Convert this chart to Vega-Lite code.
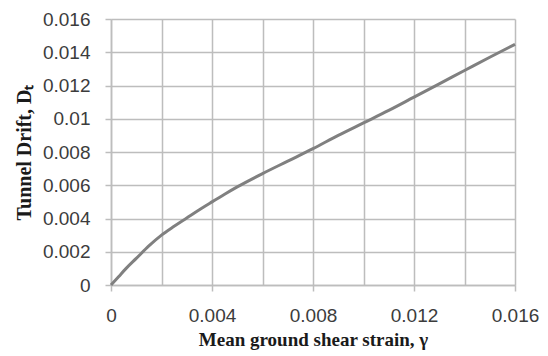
{
  "$schema": "https://vega.github.io/schema/vega-lite/v6.json",
  "width": 404,
  "height": 266,
  "autosize": "none",
  "padding": {"left": 111, "top": 19, "right": 33, "bottom": 71},
  "background": "white",
  "config": {
    "view": {"stroke": null},
    "axis": {
      "labelFont": "Liberation Sans",
      "labelFontSize": 19,
      "labelColor": "#3c3c3c",
      "titleFont": "Liberation Serif",
      "titleFontWeight": "bold",
      "titleFontSize": 19,
      "titleColor": "#1a1a1a",
      "gridColor": "#bdbdbd",
      "gridWidth": 1.5,
      "gridOpacity": 1,
      "domainColor": "#bdbdbd",
      "domainWidth": 1.5,
      "tickColor": "#bdbdbd",
      "tickWidth": 1.5,
      "tickSize": 6
    }
  },
  "data": {
    "values": [
      {"strain": 0, "drift": 0},
      {"strain": 0.0003, "drift": 0.0005},
      {"strain": 0.0006, "drift": 0.001},
      {"strain": 0.001, "drift": 0.0016},
      {"strain": 0.0015, "drift": 0.00235},
      {"strain": 0.002, "drift": 0.003},
      {"strain": 0.0025, "drift": 0.00353},
      {"strain": 0.003, "drift": 0.00403},
      {"strain": 0.0035, "drift": 0.00453},
      {"strain": 0.004, "drift": 0.005},
      {"strain": 0.0045, "drift": 0.00546},
      {"strain": 0.005, "drift": 0.0059},
      {"strain": 0.006, "drift": 0.0067},
      {"strain": 0.007, "drift": 0.00745},
      {"strain": 0.008, "drift": 0.0082},
      {"strain": 0.009, "drift": 0.009},
      {"strain": 0.01, "drift": 0.00975},
      {"strain": 0.011, "drift": 0.0105},
      {"strain": 0.012, "drift": 0.0113},
      {"strain": 0.013, "drift": 0.0121},
      {"strain": 0.014, "drift": 0.0129},
      {"strain": 0.015, "drift": 0.0137},
      {"strain": 0.016, "drift": 0.01448}
    ]
  },
  "mark": {"type": "line", "color": "#808080", "strokeWidth": 3, "interpolate": "monotone"},
  "encoding": {
    "x": {
      "field": "strain",
      "type": "quantitative",
      "scale": {"domain": [0, 0.016], "nice": false, "zero": true},
      "axis": {
        "title": "Mean ground shear strain, γ",
        "values": [0, 0.002, 0.004, 0.006, 0.008, 0.01, 0.012, 0.014, 0.016],
        "format": "~g",
        "labelExpr": "round(datum.value*1000) % 4 === 0 ? datum.label : ''",
        "tickOpacity": {"condition": {"test": "round(datum.value*1000) % 4 === 0", "value": 1}, "value": 0},
        "labelPadding": 15,
        "titlePadding": 5,
        "labelFlush": false,
        "labelOverlap": false
      }
    },
    "y": {
      "field": "drift",
      "type": "quantitative",
      "scale": {"domain": [0, 0.016], "nice": false},
      "axis": {
        "title": "Tunnel Drift, Dₜ",
        "titleFontSize": 20,
        "values": [0, 0.002, 0.004, 0.006, 0.008, 0.01, 0.012, 0.014, 0.016],
        "format": "~g",
        "labelPadding": 15,
        "titlePadding": 8,
        "labelFlush": false,
        "labelOverlap": false
      }
    }
  }
}
